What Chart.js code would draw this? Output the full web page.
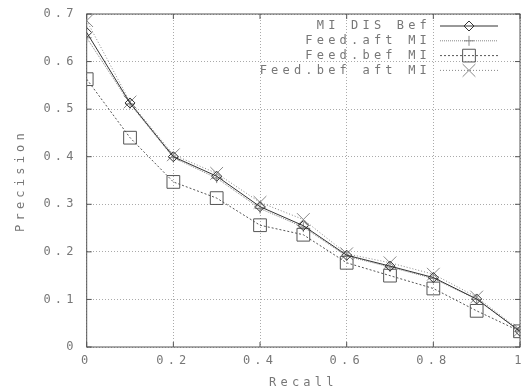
<!DOCTYPE html>
<html>
<head>
<meta charset="utf-8">
<script src="https://cdn.jsdelivr.net/npm/chart.js@4/dist/chart.umd.min.js"></script>
<style>html,body{margin:0;padding:0;background:#fff}</style>
</head>
<body>
<canvas id="chart" width="521" height="390"></canvas>
<script>
'use strict';

// recall levels (x) and precision per run (y)
const recall = [0, 0.1, 0.2, 0.3, 0.4, 0.5, 0.6, 0.7, 0.8, 0.9, 1];
const miDisBef = [0.661, 0.513, 0.400, 0.359, 0.295, 0.255, 0.193, 0.170, 0.146, 0.101, 0.033];
const feedAftMi = [0.650, 0.511, 0.398, 0.355, 0.291, 0.252, 0.191, 0.168, 0.144, 0.100, 0.033];
const feedBefMi = [0.563, 0.440, 0.347, 0.313, 0.256, 0.236, 0.177, 0.150, 0.123, 0.076, 0.033];
const feedBefAftMi = [0.686, 0.515, 0.404, 0.365, 0.304, 0.268, 0.196, 0.177, 0.153, 0.105, 0.035];
const seriesNames = ['MI DIS Bef', 'Feed.aft MI', 'Feed.bef MI', 'Feed.bef aft MI'];
const xTicks = [0, 0.2, 0.4, 0.6, 0.8, 1];
const yTicks = [0, 0.1, 0.2, 0.3, 0.4, 0.5, 0.6, 0.7];

const FONT = { family: 'DejaVu Sans Mono', size: 12 };
const TEXT = '#777';
const SPACING = '4.2px';

const toPoints = ys => recall.map((x, i) => ({ x: x, y: ys[i] }));

const styles = [
  { color: '#333', dash: [], point: 'rectRot', r: 5 },
  { color: '#888', dash: [1, 1], point: 'cross', r: 5 },
  { color: '#555', dash: [2, 2], point: 'rect', r: 9 },
  { color: '#888', dash: [1, 2], point: 'crossRot', r: 9 }
];
const values = [miDisBef, feedAftMi, feedBefMi, feedBefAftMi];

const spacing = {
  id: 'spacing',
  beforeLayout(chart) { chart.ctx.letterSpacing = SPACING; },
  beforeDraw(chart) { chart.ctx.letterSpacing = SPACING; }
};

// gnuplot style frame with inward tick marks
const frame = {
  id: 'frame',
  beforeDatasetsDraw(chart) {
    const { ctx, chartArea: a, scales } = chart;
    ctx.save();
    ctx.strokeStyle = '#555';
    ctx.lineWidth = 1;
    ctx.strokeRect(a.left, a.top, a.right - a.left, a.bottom - a.top);
    ctx.beginPath();
    xTicks.forEach(v => {
      const x = scales.x.getPixelForValue(v);
      ctx.moveTo(x, a.bottom); ctx.lineTo(x, a.bottom - 5);
      ctx.moveTo(x, a.top); ctx.lineTo(x, a.top + 5);
    });
    yTicks.forEach(v => {
      const y = scales.y.getPixelForValue(v);
      ctx.moveTo(a.left, y); ctx.lineTo(a.left + 5, y);
      ctx.moveTo(a.right, y); ctx.lineTo(a.right - 5, y);
    });
    ctx.stroke();
    ctx.restore();
  }
};

function marker(ctx, style, x, y, r) {
  ctx.beginPath();
  if (style === 'rectRot') {
    ctx.moveTo(x - r, y); ctx.lineTo(x, y - r); ctx.lineTo(x + r, y); ctx.lineTo(x, y + r); ctx.closePath();
  } else if (style === 'cross') {
    ctx.moveTo(x - r, y); ctx.lineTo(x + r, y); ctx.moveTo(x, y - r); ctx.lineTo(x, y + r);
  } else if (style === 'rect') {
    const s = r * Math.SQRT1_2;
    ctx.rect(x - s, y - s, 2 * s, 2 * s);
  } else {
    const s = r * Math.SQRT1_2;
    ctx.moveTo(x - s, y - s); ctx.lineTo(x + s, y + s); ctx.moveTo(x + s, y - s); ctx.lineTo(x - s, y + s);
  }
  ctx.stroke();
}

// legend: text right-aligned, sample line + marker on the right
const keyBox = {
  id: 'keyBox',
  afterDatasetsDraw(chart) {
    const ctx = chart.ctx;
    ctx.save();
    ctx.letterSpacing = SPACING;
    ctx.font = FONT.size + 'px "' + FONT.family + '"';
    ctx.textAlign = 'right';
    ctx.textBaseline = 'middle';
    chart.data.datasets.forEach((ds, i) => {
      const y = 26 + i * 14.8;
      ctx.fillStyle = TEXT;
      ctx.fillText(ds.label, 431, y);
      ctx.strokeStyle = ds.borderColor;
      ctx.lineWidth = 1;
      ctx.setLineDash(ds.borderDash);
      ctx.beginPath(); ctx.moveTo(440, y); ctx.lineTo(498, y); ctx.stroke();
      ctx.setLineDash([]);
      marker(ctx, ds.pointStyle, 469, y, ds.pointRadius);
    });
    ctx.restore();
  }
};

const datasets = seriesNames.map((name, i) => ({
  label: name,
  data: toPoints(values[i]),
  borderColor: styles[i].color,
  borderWidth: 1,
  borderDash: styles[i].dash,
  pointStyle: styles[i].point,
  pointRadius: styles[i].r,
  pointBorderColor: styles[i].color,
  pointBackgroundColor: 'rgba(0,0,0,0)',
  pointBorderWidth: 1,
  tension: 0
}));

new Chart(document.getElementById('chart'), {
  type: 'line',
  data: { datasets: datasets },
  options: {
    responsive: false,
    animation: false,
    layout: { autoPadding: false, padding: { top: 14, right: 1, left: 0, bottom: 0 } },
    plugins: { legend: { display: false }, tooltip: { enabled: false } },
    scales: {
      x: {
        type: 'linear', min: 0, max: 1,
        afterBuildTicks: s => { s.ticks = xTicks.map(v => ({ value: v })); },
        afterFit: s => { s.height = 43; s.paddingLeft = 0; s.paddingRight = 0; },
        grid: { color: '#aaa', drawTicks: false },
        border: { display: false, dash: [1, 2] },
        ticks: { color: TEXT, font: FONT, padding: 7, maxRotation: 0, callback: v => String(+v.toFixed(1)) },
        title: { display: true, text: 'Recall', color: TEXT, font: FONT, padding: { top: 0, bottom: 0 } }
      },
      y: {
        type: 'linear', min: 0, max: 0.7,
        afterBuildTicks: s => { s.ticks = yTicks.map(v => ({ value: v })); },
        afterFit: s => { s.width = 86.7; s.paddingTop = 0; s.paddingBottom = 0; },
        grid: { color: '#aaa', drawTicks: false },
        border: { display: false, dash: [1, 2] },
        ticks: { color: TEXT, font: FONT, padding: 9, callback: v => String(+v.toFixed(1)) },
        title: { display: true, text: 'Precision', color: TEXT, font: FONT, padding: { top: 14, bottom: 0 } }
      }
    }
  },
  plugins: [spacing, frame, keyBox]
});
</script>
</body>
</html>
